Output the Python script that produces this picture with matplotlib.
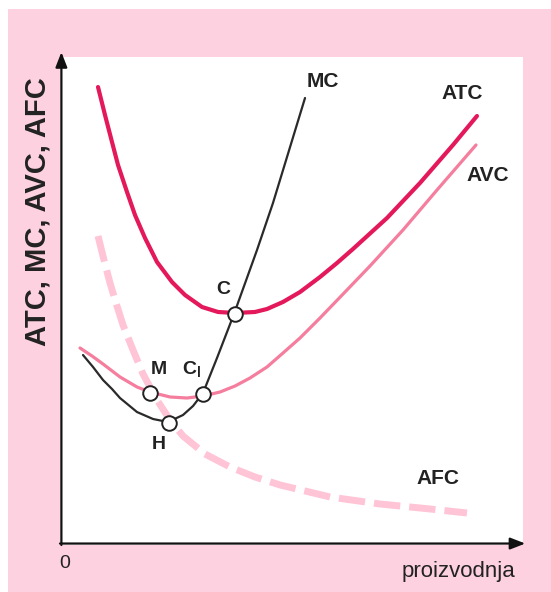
import matplotlib
matplotlib.use("Agg")
import matplotlib.pyplot as plt
from matplotlib.patches import Rectangle

plt.rcParams['font.family'] = ['Liberation Sans', 'DejaVu Sans']
plt.rcParams['lines.scale_dashes'] = False

# ---- data (quantity vs cost, arbitrary units) ----
atc_q = [8.21, 9.72, 11.23, 12.53, 14.47, 16.20, 18.36, 20.95, 24.19, 27.00, 30.67, 34.13, 37.80,
         42.12, 44.71, 48.16, 51.84, 56.16, 59.83, 63.28, 70.63, 77.75, 84.88, 90.06]
atc_c = [93.85, 88.11, 82.58, 77.87, 72.34, 67.62, 62.91, 57.99, 53.89, 51.23, 48.77, 47.75, 47.54,
         47.75, 48.36, 49.80, 51.84, 54.92, 57.79, 60.66, 67.01, 74.18, 81.97, 87.91]

avc_q = [4.32, 6.91, 9.29, 12.96, 16.63, 19.44, 23.76, 27.43, 30.89, 34.56, 37.80, 41.04, 44.71,
         48.16, 51.84, 56.16, 61.56, 66.95, 74.08, 81.43, 89.85]
avc_c = [40.37, 38.73, 37.09, 34.43, 32.38, 31.35, 30.33, 30.12, 30.53, 31.35, 32.58, 34.22, 36.48,
         39.34, 42.42, 46.52, 51.84, 57.17, 64.55, 72.75, 81.97]

mc_q = [4.97, 7.13, 9.29, 11.23, 12.96, 16.63, 20.09, 23.33, 26.57, 28.73, 30.89, 33.91, 37.58,
        42.55, 46.00, 52.92]
mc_c = [38.93, 36.48, 33.81, 31.97, 30.12, 27.25, 25.82, 25.20, 26.64, 28.48, 31.15, 38.32, 47.34,
        60.45, 70.08, 91.60]

afc_q = [8.21, 9.50, 10.80, 12.10, 13.61, 15.77, 17.93, 20.95, 23.76, 26.57, 31.32, 36.72, 42.12,
         47.52, 58.32, 69.11, 79.91, 87.90]
afc_c = [63.32, 58.40, 53.69, 49.59, 45.08, 39.96, 35.04, 29.71, 25.61, 22.34, 18.65, 15.98, 13.93,
         12.30, 9.84, 8.40, 7.38, 6.56]

point_names = ['M', 'H', 'C1', 'C']
point_q = [19.4, 23.5, 30.89, 37.7]
point_c = [31.2, 25.0, 30.9, 47.4]

curve_names = ['MC', 'ATC', 'AVC', 'AFC']
y_title = 'ATC, MC, AVC, AFC'
x_title = 'proizvodnja'
origin_label = '0'

# ---- figure ----
W, H = 551, 592
fig = plt.figure(figsize=(W / 100, H / 100), dpi=100, facecolor='white')
pink = '#FDD1DF'
fig.patches.append(Rectangle((8 / W, 0), 1 - 8 / W, (H - 9) / H, transform=fig.transFigure,
                             facecolor=pink, edgecolor='none', zorder=-10))

ax_left, ax_right, ax_top, ax_bot = 60, 523, 57, 545
ax = fig.add_axes([ax_left / W, (H - ax_bot) / H, (ax_right - ax_left) / W, (ax_bot - ax_top) / H])
ax.set_zorder(1)
ax.set_facecolor('white')
ax.set_xlim(0, 100)
ax.set_ylim(0, 100)
for s in ax.spines.values():
    s.set_visible(False)
ax.set_xticks([])
ax.set_yticks([])

# axes with arrows
arrow_kw = dict(arrowstyle='-|>,head_length=0.9,head_width=0.35', color='#111111', lw=1.6,
                shrinkA=0, shrinkB=0)
ax.annotate('', xy=(0.3, 101), xytext=(0.3, 0), xycoords='data', textcoords='data',
            arrowprops=arrow_kw, annotation_clip=False)
ax.annotate('', xy=(100.5, 0.3), xytext=(0, 0.3), xycoords='data', textcoords='data',
            arrowprops=arrow_kw, annotation_clip=False)

# curves
afc_line, = ax.plot(afc_q, afc_c, color='#FFC4D6', lw=5.0, zorder=2)
afc_line.set_dashes((19, 6.5))
afc_line.set_dash_capstyle('butt')
afc_line.set_dash_joinstyle('round')
ax.plot(avc_q, avc_c, color='#F57D9D', lw=2.3, zorder=3, solid_capstyle='round', solid_joinstyle='round')
ax.plot(atc_q, atc_c, color='#E3195C', lw=3.0, zorder=3, solid_capstyle='round', solid_joinstyle='round')
ax.plot(mc_q, mc_c, color='#2a2a2a', lw=1.6, zorder=4, solid_capstyle='round', solid_joinstyle='round')

ax.plot(point_q, point_c, linestyle='none', marker='o', markersize=10.5,
        markerfacecolor='white', markeredgecolor='#222222', markeredgewidth=1.4, zorder=5)

# curve labels
lab_kw = dict(fontsize=15, fontweight='bold', color='#222222', ha='center', va='center')
ax.text(56.7, 94.9, curve_names[0], **lab_kw)
ax.text(86.8, 92.6, curve_names[1], **lab_kw)
ax.text(92.4, 75.8, curve_names[2], **lab_kw, clip_on=False)
ax.text(81.6, 13.7, curve_names[3], **lab_kw)

# point labels
pt_kw = dict(fontsize=14, fontweight='bold', color='#222222', ha='center', va='center')
ax.text(21.4, 35.9, 'M', **pt_kw)
ax.text(28.5, 35.9, r'C$_{\mathregular{l}}$', **pt_kw)
ax.text(21.4, 20.5, 'H', **pt_kw)
ax.text(35.2, 52.3, 'C', **pt_kw)

# axis texts
fig.text(38 / W, 1 - 212 / H, y_title, rotation=90, fontsize=21, fontweight='bold',
         color='#222222', ha='center', va='center')
fig.text(458 / W, 1 - 572 / H, x_title, fontsize=16, color='#222222', ha='center', va='center')
fig.text(65 / W, 1 - 563 / H, origin_label, fontsize=14, color='#222222', ha='center', va='center')

fig.savefig('out.png', dpi=100, facecolor='white')
